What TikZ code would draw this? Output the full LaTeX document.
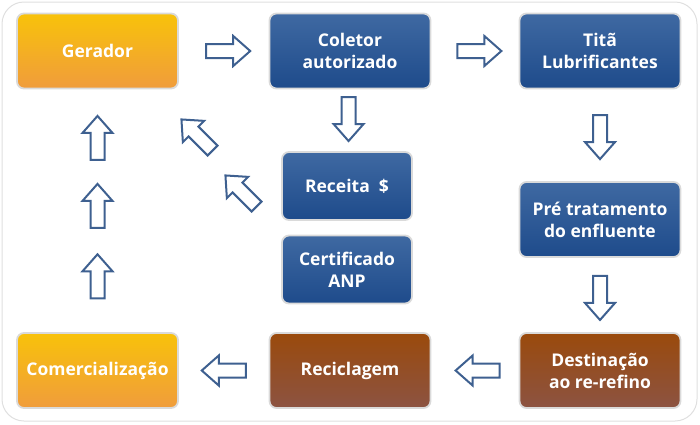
\documentclass[tikz,border=0pt]{standalone}
\usepackage{fontspec}
\setmainfont{Open Sans}
\usepackage{tikz}
\usetikzlibrary{calc}
\definecolor{orangetop}{HTML}{F8C20A}
\definecolor{orangebot}{HTML}{F09C3C}
\definecolor{bluetop}{HTML}{3F69A2}
\definecolor{bluebot}{HTML}{1E4B8B}
\definecolor{browntop}{HTML}{9A4A0C}
\definecolor{brownbot}{HTML}{8C5342}
\definecolor{boxrim}{HTML}{DADADA}
\definecolor{arrowblue}{HTML}{3E6090}
\tikzstyle{box} = [rectangle, rounded corners = 7pt, draw = boxrim, line width = 1.8pt, text = white, align = center, inner sep = 0pt, font = \bfseries\fontsize{17.5}{22}\selectfont, minimum width = 161pt, minimum height = 75pt]
\tikzstyle{orange box} = [box, top color = orangetop, bottom color = orangebot]
\tikzstyle{blue box} = [box, top color = bluetop, bottom color = bluebot]
\tikzstyle{brown box} = [box, top color = browntop, bottom color = brownbot]
\tikzstyle{small box} = [blue box, minimum width = 130pt, minimum height = 68pt]
\tikzset{fat arrow/.pic = {
    \draw[arrowblue, fill = white, line width = 2pt, line join = miter]
    (-22,-7) -- (5,-7) -- (5,-15) -- (22,0) -- (5,15) -- (5,7) -- (-22,7) -- cycle;
}}

\begin{document}
\begin{tikzpicture}[x = 1pt, y = -1pt]
        \useasboundingbox (0,0) rectangle (700,424);
        % outer frame
        \draw[gray!25, line width = 1pt, rounded corners = 22pt] (2,2) rectangle (697,421);

        % draw nodes
        \node[orange box] (gerador) at (97.5,51) {Gerador};
        \node[blue box] (coletor) at (350,51) {Coletor\\autorizado};
        \node[blue box] (tita) at (600,51) {Titã\\Lubrificantes};
        \node[small box] (receita) at (347,186) {Receita\ \ \$};
        \node[small box] (certificado) at (347,269.5) {Certificado\\ANP};
        \node[blue box] (pre) at (600,219.5) {Pré tratamento\\do enfluente};
        \node[brown box] (destinacao) at (600,370.5) {Destinação\\ao re-refino};
        \node[brown box] (reciclagem) at (350,370.5) {Reciclagem};
        \node[orange box] (comerc) at (97.5,370.5) {Comercialização};

        % draw block arrows between the boxes
        \pic at ($(gerador.east)!0.55!(coletor.west)$) {fat arrow};
        \pic at ($(coletor.east)!0.55!(tita.west)$) {fat arrow};
        \pic[rotate = -90] at ($(coletor.south)!0.48!(receita.north)$) {fat arrow};
        \pic[rotate = -90] at ($(tita.south)!0.52!(pre.north)$) {fat arrow};
        \pic[rotate = -90] at ($(pre.south)!0.54!(destinacao.north)$) {fat arrow};
        \pic[rotate = 180] at ($(destinacao.west)!0.47!(reciclagem.east)$) {fat arrow};
        \pic[rotate = 180] at ($(reciclagem.west)!0.5!(comerc.east)$) {fat arrow};
        \pic[rotate = 90] at ($(comerc.north)!0.23!(gerador.south)$) {fat arrow};
        \pic[rotate = 90] at ($(comerc.north)!0.52!(gerador.south)$) {fat arrow};
        \pic[rotate = 90] at ($(comerc.north)!0.80!(gerador.south)$) {fat arrow};
        \pic[rotate = 135] at (197,135) {fat arrow};
        \pic[rotate = 135] at (241,191) {fat arrow};
    \end{tikzpicture}
\end{document}
